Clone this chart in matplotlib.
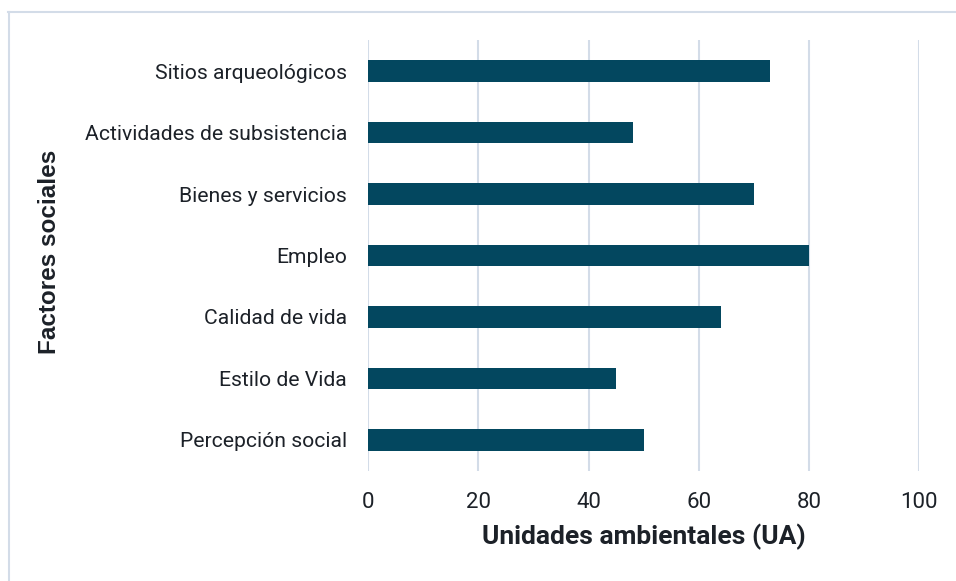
import matplotlib.pyplot as plt
from matplotlib.lines import Line2D

# Social factors and their environmental units
factores = ["Sitios arqueológicos", "Actividades de subsistencia",
            "Bienes y servicios", "Empleo", "Calidad de vida",
            "Estilo de Vida", "Percepción social"]
unidades = [73, 48, 70, 80, 64, 45, 50]
xticks = [0, 20, 40, 60, 80, 100]

bar_color = "#03475f"
grid_color = "#d3dce8"
text_color = "#1c2128"

fig = plt.figure(figsize=(9.56, 5.81), dpi=100)
ax = fig.add_axes([0.385, 0.1898, 0.5765, 0.7409])

y = list(range(len(factores)))
ax.barh(y, unidades, height=0.35, color=bar_color, zorder=3)
ax.set_ylim(len(factores) - 0.5, -0.5)
ax.set_xlim(0, 100)
ax.set_yticks(y)
ax.set_yticklabels(factores, fontsize=15.2, family="Roboto", color=text_color)
ax.set_xticks(xticks)
ax.set_xticklabels([str(v) for v in xticks], fontsize=16, family="Roboto",
                   color=text_color)
ax.tick_params(axis="both", length=0)
ax.tick_params(axis="y", pad=15)
ax.tick_params(axis="x", pad=15)
ax.grid(axis="x", color=grid_color, linewidth=1.5, zorder=0)
ax.set_axisbelow(True)
for s in ax.spines.values():
    s.set_visible(False)

ax.set_xlabel("Unidades ambientales (UA)", fontsize=19, family="Roboto",
              fontweight="bold", color=text_color, labelpad=8)
fig.text(50 / 956, 1 - 252 / 581, "Factores sociales", rotation=90,
         ha="center", va="center", fontsize=17.5, fontweight="bold",
         family="Liberation Sans", color=text_color)

# thin frame on the top and left edge
fig.add_artist(Line2D([8 / 956, 1], [1 - 11.5 / 581] * 2, color=grid_color,
                      linewidth=1.5, transform=fig.transFigure))
fig.add_artist(Line2D([9 / 956] * 2, [0, 1 - 11.5 / 581], color=grid_color,
                      linewidth=1.5, transform=fig.transFigure))

fig.savefig("out.png", dpi=100)
